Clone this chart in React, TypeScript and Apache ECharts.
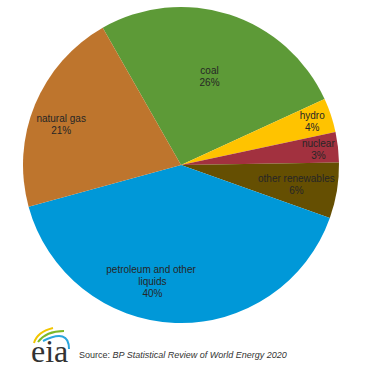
import React, { useEffect, useRef } from "react";
import * as echarts from "echarts";

const categories = ["coal", "hydro", "nuclear", "other renewables", "petroleum and other liquids", "natural gas"];
const shares = [26.4, 3.5, 3.1, 5.7, 40.3, 21.0];
const colors = ["#5D9A37", "#FFC300", "#A2313F", "#654F02", "#0098D8", "#BE752D"];
// label placement (fraction of radius, angular shift in degrees)
const labelRadius = [0.59, 0.875, 0.875, 0.74, 0.76, 0.8];
const labelShift = [0, 0, 0, 0, 11.6, -4];
const sourceLabel = "Source: ";
const sourceTitle = "BP Statistical Review of World Energy 2020";

const CX = 181;
const CY = 165;
const R = 158;

export default function App() {
  const ref = useRef<HTMLDivElement>(null);
  useEffect(() => {
    document.body.style.margin = "0";
    const chart = echarts.init(ref.current!, null, { renderer: "svg" });
    chart.setOption({
      animation: false,
      backgroundColor: "#ffffff",
      series: [
        {
          type: "pie",
          center: [CX, CY],
          radius: R,
          startAngle: 119.7,
          clockwise: true,
          avoidLabelOverlap: false,
          label: {
            show: true,
            position: "inside",
            fontFamily: "Liberation Sans, Arial, sans-serif",
            fontSize: 10,
            lineHeight: 12,
            color: "#262626",
            width: 96,
            overflow: "break",
            formatter: (p: any) => `${p.name}\n${Math.round(p.value)}%`,
          },
          labelLayout: (p: any) => {
            const i = p.dataIndex;
            const rect = p.labelRect;
            const lx = rect.x + rect.width / 2;
            const ly = rect.y + rect.height / 2;
            const a = Math.atan2(ly - CY, lx - CX) + (labelShift[i] * Math.PI) / 180;
            const rr = labelRadius[i] * R;
            return { x: CX + rr * Math.cos(a), y: CY + rr * Math.sin(a) };
          },
          labelLine: { show: false },
          emphasis: { disabled: true },
          data: categories.map((name, i) => ({
            name,
            value: shares[i],
            itemStyle: { color: colors[i] },
          })),
        },
      ],
      graphic: [
        {
          type: "bezierCurve",
          shape: { x1: 34, y1: 343, cpx1: 37, cpy1: 332, x2: 53, y2: 328 },
          style: { stroke: "#F2C500", lineWidth: 2, fill: null },
        },
        {
          type: "bezierCurve",
          shape: { x1: 38, y1: 342, cpx1: 46, cpy1: 331, x2: 64, y2: 331 },
          style: { stroke: "#7DB828", lineWidth: 2, fill: null },
        },
        {
          type: "bezierCurve",
          shape: { x1: 43, y1: 341, cpx1: 69, cpy1: 328, x2: 69, y2: 349 },
          style: { stroke: "#2BA6DE", lineWidth: 2, fill: null },
        },
        {
          type: "text",
          style: {
            x: 31,
            y: 351,
            text: "eia",
            font: "32px 'Liberation Serif', serif",
            fill: "#333333",
            textAlign: "left",
            textVerticalAlign: "middle",
          },
        },
        {
          type: "text",
          style: {
            x: 79,
            y: 355,
            text: `{n|${sourceLabel}}{i|${sourceTitle}}`,
            textAlign: "left",
            textVerticalAlign: "middle",
            rich: {
              n: { fontFamily: "Liberation Sans, Arial, sans-serif", fontSize: 9, fill: "#333" },
              i: { fontFamily: "Liberation Sans, Arial, sans-serif", fontSize: 9, fontStyle: "italic", fill: "#333" },
            },
          },
        },
      ],
    });
    return () => chart.dispose();
  }, []);
  return <div ref={ref} style={{ width: 372, height: 370 }} />;
}
